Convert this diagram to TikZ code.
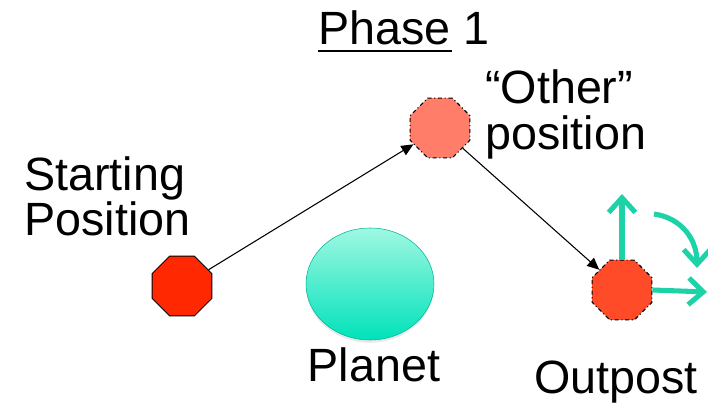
\documentclass[tikz,border=0pt]{standalone}
\usepackage{fontspec}
\setmainfont{Liberation Sans}
\usetikzlibrary{arrows.meta, shapes.geometric, shadows}

\definecolor{stopred}{RGB}{255,40,0}
\definecolor{otherred}{RGB}{255,125,105}
\definecolor{postred}{RGB}{255,75,40}
\definecolor{planettop}{RGB}{160,248,226}
\definecolor{planetbot}{RGB}{0,226,186}
\definecolor{axisteal}{RGB}{30,210,168}

\begin{document}
\begin{tikzpicture}[x=0.75pt,y=-0.75pt,
    lbl/.style={font=\fontsize{35}{38}\selectfont, inner sep=0pt},
    octa/.style={regular polygon, regular polygon sides=8, minimum size=48.5pt, inner sep=0pt},
    teal arrow/.style={axisteal, line width=3.8pt, -{Straight Barb[length=11pt, width=20pt, line width=3.8pt]}}]
\useasboundingbox (0,0) rectangle (708,406);

%\node (planet) ... drawn first so the arrows sit on top
\node[ellipse, minimum width=96pt, minimum height=84pt, draw=planetbot!80!black, thin,
      top color=planettop, bottom color=planetbot,
      drop shadow={shadow xshift=0pt, shadow yshift=-2pt, opacity=0.18}] (planet) at (370,284) {};

\begin{scope}[every node/.style={octa}]
    \node[fill=stopred, draw=black, semithick] (start) at (182,286) {};
    \node[fill=otherred, draw=black, thick, dash dot] (other) at (440,128) {};
    \node[fill=postred, draw=black, thick, dash dot] (post) at (622,290) {};
\end{scope}

% labels
\node[lbl, anchor=base west] (phase) at (318,45) {Phase\ 1};
\draw[line width=1.5pt] (318,51) -- (452,51);
\node[lbl, anchor=base west, align=left] (otherlbl) at (485,150) {“Other”\\[-3pt]position};
\node[lbl, anchor=base west, align=left] (startlbl) at (24,236) {Starting\\[-4pt]Position};
\node[lbl, anchor=base] (planetlbl) at (374,382) {Planet};
\node[lbl, anchor=base] (postlbl) at (616,394) {Outpost};

% path
\path [-{Triangle[length=9pt, width=8pt]}, line width=0.8pt] (start) edge (other);
\path [-{Triangle[length=9pt, width=8pt]}, line width=0.8pt] (other) edge (post);

% axes
\coordinate (up) at (622,194);
\coordinate (right) at (707,292);
\coordinate (arcA) at (654,214);
\coordinate (arcB) at (697,268);
\draw[teal arrow] (post.north) -- (up);
\draw[teal arrow] (post.east) -- (right);
\draw[teal arrow] (arcA) .. controls (682,218) and (697,240) .. (arcB);
\end{tikzpicture}
\end{document}
